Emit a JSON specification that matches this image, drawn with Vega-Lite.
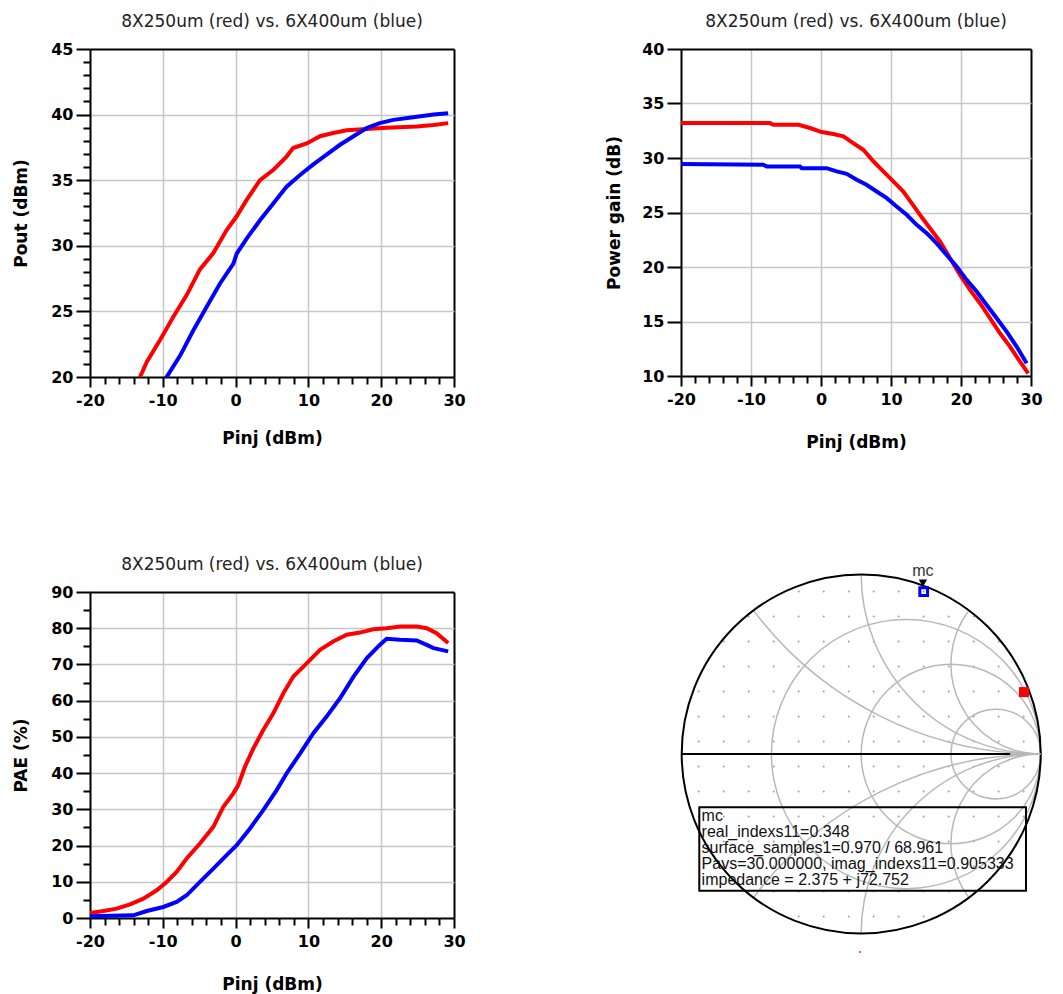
{
  "$schema": "https://vega.github.io/schema/vega-lite/v6.json",
  "autosize": {"type": "none"},
  "padding": {"left": 90, "top": 49, "right": 973, "bottom": 945},
  "background": "white",
  "columns": 2,
  "spacing": {"row": 215, "column": 227},
  "bounds": "flush",
  "align": "all",
  "config": {
    "font": "DejaVu Sans",
    "view": {"stroke": null},
    "axis": {
      "domainColor": "black", "domainWidth": 2,
      "tickColor": "black", "tickWidth": 2,
      "labelFont": "DejaVu Sans", "labelFontWeight": "bold", "labelFontSize": 16, "labelColor": "black",
      "titleFont": "DejaVu Sans", "titleFontWeight": "bold", "titleFontSize": 17, "titleColor": "black",
      "labelFlush": false, "labelOverlap": false
    },
    "title": {"font": "DejaVu Sans", "fontSize": 17, "fontWeight": "normal", "color": "#222222", "frame": "group", "offset": 10}
  },
  "concat": [
    {
      "width": 364, "height": 328,
      "title": "8X250um (red) vs. 6X400um  (blue)",
      "data": {"values": [
        {"dev": "8X250um", "pinj": -20, "v": 13.2},
        {"dev": "8X250um", "pinj": -13.13, "v": 20.0},
        {"dev": "8X250um", "pinj": -12.2, "v": 21.15},
        {"dev": "8X250um", "pinj": -10.4, "v": 22.8},
        {"dev": "8X250um", "pinj": -8.55, "v": 24.6},
        {"dev": "8X250um", "pinj": -6.7, "v": 26.26},
        {"dev": "8X250um", "pinj": -4.9, "v": 28.2},
        {"dev": "8X250um", "pinj": -3.06, "v": 29.45},
        {"dev": "8X250um", "pinj": -1.23, "v": 31.2},
        {"dev": "8X250um", "pinj": 0.15, "v": 32.25},
        {"dev": "8X250um", "pinj": 1.52, "v": 33.5},
        {"dev": "8X250um", "pinj": 3.35, "v": 35.0},
        {"dev": "8X250um", "pinj": 5.2, "v": 35.8},
        {"dev": "8X250um", "pinj": 7.0, "v": 36.8},
        {"dev": "8X250um", "pinj": 7.9, "v": 37.45},
        {"dev": "8X250um", "pinj": 9.76, "v": 37.8},
        {"dev": "8X250um", "pinj": 11.6, "v": 38.35},
        {"dev": "8X250um", "pinj": 13.4, "v": 38.6},
        {"dev": "8X250um", "pinj": 15.26, "v": 38.8},
        {"dev": "8X250um", "pinj": 18.0, "v": 38.9},
        {"dev": "8X250um", "pinj": 20.75, "v": 39.0},
        {"dev": "8X250um", "pinj": 24.9, "v": 39.1},
        {"dev": "8X250um", "pinj": 27.2, "v": 39.2},
        {"dev": "8X250um", "pinj": 29.2, "v": 39.35},
        {"dev": "6X400um", "pinj": -20, "v": 9.3},
        {"dev": "6X400um", "pinj": -9.47, "v": 20.0},
        {"dev": "6X400um", "pinj": -7.6, "v": 21.65},
        {"dev": "6X400um", "pinj": -5.8, "v": 23.56},
        {"dev": "6X400um", "pinj": -3.97, "v": 25.35},
        {"dev": "6X400um", "pinj": -2.14, "v": 27.13},
        {"dev": "6X400um", "pinj": -0.3, "v": 28.65},
        {"dev": "6X400um", "pinj": 0.15, "v": 29.4},
        {"dev": "6X400um", "pinj": 1.52, "v": 30.55},
        {"dev": "6X400um", "pinj": 3.35, "v": 31.95},
        {"dev": "6X400um", "pinj": 5.2, "v": 33.25},
        {"dev": "6X400um", "pinj": 7.0, "v": 34.5},
        {"dev": "6X400um", "pinj": 8.85, "v": 35.4},
        {"dev": "6X400um", "pinj": 10.68, "v": 36.2},
        {"dev": "6X400um", "pinj": 12.5, "v": 36.95},
        {"dev": "6X400um", "pinj": 14.34, "v": 37.7},
        {"dev": "6X400um", "pinj": 16.2, "v": 38.35},
        {"dev": "6X400um", "pinj": 18.0, "v": 38.97},
        {"dev": "6X400um", "pinj": 19.8, "v": 39.35},
        {"dev": "6X400um", "pinj": 21.67, "v": 39.6},
        {"dev": "6X400um", "pinj": 24.4, "v": 39.8},
        {"dev": "6X400um", "pinj": 27.2, "v": 40.0},
        {"dev": "6X400um", "pinj": 29.2, "v": 40.1}
      ]},
      "mark": {"type": "line", "strokeWidth": 4, "clip": true},
      "encoding": {
        "x": {"field": "pinj", "type": "quantitative", "scale": {"domain": [-20, 30], "nice": false, "zero": false},
          "axis": {"title": "Pinj (dBm)", "values": [-20,-18,-16,-14,-12,-10,-8,-6,-4,-2,0,2,4,6,8,10,12,14,16,18,20,22,24,26,28,30],
            "labelExpr": "datum.value % 10 === 0 ? '' + datum.value : ''",
            "tickSize": {"condition": {"test": "datum.value % 10 === 0", "value": 10}, "value": 7},
            "gridOpacity": {"condition": {"test": "datum.value % 10 === 0 && datum.value > -20", "value": 1}, "value": 0},
            "gridColor": {"condition": {"test": "datum.value === 30", "value": "#000000"}, "value": "#c6c6c6"},
            "gridWidth": {"condition": {"test": "datum.value === 30", "value": 2}, "value": 1.5},
            "labelPadding": 5, "titlePadding": 22}},
        "y": {"field": "v", "type": "quantitative", "scale": {"domain": [20, 45], "nice": false, "zero": false},
          "axis": {"title": "Pout (dBm)", "values": [20,21,22,23,24,25,26,27,28,29,30,31,32,33,34,35,36,37,38,39,40,41,42,43,44,45],
            "labelExpr": "datum.value % 5 === 0 ? '' + datum.value : ''",
            "tickSize": {"condition": {"test": "datum.value % 5 === 0", "value": 14}, "value": 7},
            "gridOpacity": {"condition": {"test": "datum.value % 5 === 0 && datum.value > 20", "value": 1}, "value": 0},
            "gridColor": {"condition": {"test": "datum.value === 45", "value": "#000000"}, "value": "#c6c6c6"},
            "gridWidth": {"condition": {"test": "datum.value === 45", "value": 2}, "value": 1.5},
            "labelPadding": 3, "titlePadding": 20}},
        "color": {"field": "dev", "type": "nominal", "scale": {"domain": ["8X250um", "6X400um"], "range": ["#ff0000", "#0000ff"]}, "legend": null}
      }
    },
    {
      "width": 350, "height": 327,
      "title": "8X250um (red) vs. 6X400um  (blue)",
      "data": {"values": [
        {"dev": "8X250um", "pinj": -20, "v": 33.2},
        {"dev": "8X250um", "pinj": -7.3, "v": 33.2},
        {"dev": "8X250um", "pinj": -6.8, "v": 33.05},
        {"dev": "8X250um", "pinj": -3.2, "v": 33.05},
        {"dev": "8X250um", "pinj": -1.57, "v": 32.75},
        {"dev": "8X250um", "pinj": 0.1, "v": 32.38},
        {"dev": "8X250um", "pinj": 1.76, "v": 32.2},
        {"dev": "8X250um", "pinj": 3.2, "v": 31.98},
        {"dev": "8X250um", "pinj": 4.6, "v": 31.37},
        {"dev": "8X250um", "pinj": 6.05, "v": 30.76},
        {"dev": "8X250um", "pinj": 7.48, "v": 29.7},
        {"dev": "8X250um", "pinj": 8.9, "v": 28.77},
        {"dev": "8X250um", "pinj": 10.33, "v": 27.85},
        {"dev": "8X250um", "pinj": 11.76, "v": 26.93},
        {"dev": "8X250um", "pinj": 12.95, "v": 25.86},
        {"dev": "8X250um", "pinj": 14.14, "v": 24.79},
        {"dev": "8X250um", "pinj": 15.57, "v": 23.56},
        {"dev": "8X250um", "pinj": 17.0, "v": 22.34},
        {"dev": "8X250um", "pinj": 18.43, "v": 20.81},
        {"dev": "8X250um", "pinj": 19.86, "v": 19.28},
        {"dev": "8X250um", "pinj": 21.29, "v": 17.9},
        {"dev": "8X250um", "pinj": 22.71, "v": 16.68},
        {"dev": "8X250um", "pinj": 24.14, "v": 15.3},
        {"dev": "8X250um", "pinj": 25.57, "v": 13.92},
        {"dev": "8X250um", "pinj": 27.0, "v": 12.7},
        {"dev": "8X250um", "pinj": 28.43, "v": 11.32},
        {"dev": "8X250um", "pinj": 29.6, "v": 10.25},
        {"dev": "6X400um", "pinj": -20, "v": 29.44},
        {"dev": "6X400um", "pinj": -8.24, "v": 29.38},
        {"dev": "6X400um", "pinj": -7.76, "v": 29.23},
        {"dev": "6X400um", "pinj": -3.0, "v": 29.23},
        {"dev": "6X400um", "pinj": -2.76, "v": 29.07},
        {"dev": "6X400um", "pinj": 0.8, "v": 29.07},
        {"dev": "6X400um", "pinj": 2.24, "v": 28.77},
        {"dev": "6X400um", "pinj": 3.67, "v": 28.55},
        {"dev": "6X400um", "pinj": 5.1, "v": 28.0},
        {"dev": "6X400um", "pinj": 6.5, "v": 27.54},
        {"dev": "6X400um", "pinj": 7.95, "v": 26.93},
        {"dev": "6X400um", "pinj": 9.4, "v": 26.32},
        {"dev": "6X400um", "pinj": 10.8, "v": 25.55},
        {"dev": "6X400um", "pinj": 12.24, "v": 24.79},
        {"dev": "6X400um", "pinj": 13.67, "v": 23.87},
        {"dev": "6X400um", "pinj": 15.1, "v": 23.1},
        {"dev": "6X400um", "pinj": 16.5, "v": 22.19},
        {"dev": "6X400um", "pinj": 17.95, "v": 21.11},
        {"dev": "6X400um", "pinj": 19.38, "v": 20.04},
        {"dev": "6X400um", "pinj": 20.8, "v": 18.82},
        {"dev": "6X400um", "pinj": 22.24, "v": 17.75},
        {"dev": "6X400um", "pinj": 23.67, "v": 16.52},
        {"dev": "6X400um", "pinj": 25.1, "v": 15.3},
        {"dev": "6X400um", "pinj": 26.52, "v": 14.07},
        {"dev": "6X400um", "pinj": 27.95, "v": 12.7},
        {"dev": "6X400um", "pinj": 29.38, "v": 11.17}
      ]},
      "mark": {"type": "line", "strokeWidth": 4, "clip": true},
      "encoding": {
        "x": {"field": "pinj", "type": "quantitative", "scale": {"domain": [-20, 30], "nice": false, "zero": false},
          "axis": {"title": "Pinj (dBm)", "values": [-20,-18,-16,-14,-12,-10,-8,-6,-4,-2,0,2,4,6,8,10,12,14,16,18,20,22,24,26,28,30],
            "labelExpr": "datum.value % 10 === 0 ? '' + datum.value : ''",
            "tickSize": {"condition": {"test": "datum.value % 10 === 0", "value": 10}, "value": 7},
            "gridOpacity": {"condition": {"test": "datum.value % 10 === 0 && datum.value > -20", "value": 1}, "value": 0},
            "gridColor": {"condition": {"test": "datum.value === 30", "value": "#000000"}, "value": "#c6c6c6"},
            "gridWidth": {"condition": {"test": "datum.value === 30", "value": 2}, "value": 1.5},
            "labelPadding": 5, "titlePadding": 27}},
        "y": {"field": "v", "type": "quantitative", "scale": {"domain": [10, 40], "nice": false, "zero": false},
          "axis": {"title": "Power gain (dB)", "values": [10,15,20,25,30,35,40], "tickSize": 14,
            "labelExpr": "'' + datum.value",
            "gridOpacity": {"condition": {"test": "datum.value > 10", "value": 1}, "value": 0},
            "gridColor": {"condition": {"test": "datum.value === 40", "value": "#000000"}, "value": "#c6c6c6"},
            "gridWidth": {"condition": {"test": "datum.value === 40", "value": 2}, "value": 1.5},
            "labelPadding": 3, "titlePadding": 18}},
        "color": {"field": "dev", "type": "nominal", "scale": {"domain": ["8X250um", "6X400um"], "range": ["#ff0000", "#0000ff"]}, "legend": null}
      }
    },
    {
      "width": 364, "height": 326,
      "title": "8X250um (red) vs. 6X400um  (blue)",
      "data": {"values": [
        {"dev": "8X250um", "pinj": -20, "v": 1.38},
        {"dev": "8X250um", "pinj": -18.17, "v": 1.93},
        {"dev": "8X250um", "pinj": -16.34, "v": 2.58},
        {"dev": "8X250um", "pinj": -14.5, "v": 3.78},
        {"dev": "8X250um", "pinj": -12.67, "v": 5.35},
        {"dev": "8X250um", "pinj": -10.84, "v": 7.65},
        {"dev": "8X250um", "pinj": -9.47, "v": 9.96},
        {"dev": "8X250um", "pinj": -8.1, "v": 12.73},
        {"dev": "8X250um", "pinj": -6.72, "v": 16.42},
        {"dev": "8X250um", "pinj": -4.9, "v": 20.57},
        {"dev": "8X250um", "pinj": -3.06, "v": 25.18},
        {"dev": "8X250um", "pinj": -1.68, "v": 30.72},
        {"dev": "8X250um", "pinj": -0.31, "v": 34.4},
        {"dev": "8X250um", "pinj": 0.37, "v": 36.7},
        {"dev": "8X250um", "pinj": 1.29, "v": 41.8},
        {"dev": "8X250um", "pinj": 2.44, "v": 46.8},
        {"dev": "8X250um", "pinj": 3.8, "v": 51.9},
        {"dev": "8X250um", "pinj": 5.18, "v": 56.5},
        {"dev": "8X250um", "pinj": 6.56, "v": 62.05},
        {"dev": "8X250um", "pinj": 7.93, "v": 66.65},
        {"dev": "8X250um", "pinj": 9.76, "v": 70.3},
        {"dev": "8X250um", "pinj": 11.6, "v": 74.04},
        {"dev": "8X250um", "pinj": 13.4, "v": 76.35},
        {"dev": "8X250um", "pinj": 15.26, "v": 78.2},
        {"dev": "8X250um", "pinj": 17.1, "v": 78.8},
        {"dev": "8X250um", "pinj": 18.9, "v": 79.7},
        {"dev": "8X250um", "pinj": 20.75, "v": 80.0},
        {"dev": "8X250um", "pinj": 22.6, "v": 80.5},
        {"dev": "8X250um", "pinj": 24.87, "v": 80.5},
        {"dev": "8X250um", "pinj": 26.25, "v": 80.0},
        {"dev": "8X250um", "pinj": 27.6, "v": 78.6},
        {"dev": "8X250um", "pinj": 29.2, "v": 75.9},
        {"dev": "6X400um", "pinj": -20, "v": 0.46},
        {"dev": "6X400um", "pinj": -14.05, "v": 0.74},
        {"dev": "6X400um", "pinj": -12.2, "v": 1.94},
        {"dev": "6X400um", "pinj": -9.93, "v": 3.04},
        {"dev": "6X400um", "pinj": -8.1, "v": 4.43},
        {"dev": "6X400um", "pinj": -6.72, "v": 6.27},
        {"dev": "6X400um", "pinj": -4.9, "v": 9.96},
        {"dev": "6X400um", "pinj": -3.06, "v": 13.65},
        {"dev": "6X400um", "pinj": -1.23, "v": 17.34},
        {"dev": "6X400um", "pinj": 0.15, "v": 20.1},
        {"dev": "6X400um", "pinj": 1.98, "v": 24.72},
        {"dev": "6X400um", "pinj": 3.8, "v": 29.8},
        {"dev": "6X400um", "pinj": 5.64, "v": 35.3},
        {"dev": "6X400um", "pinj": 7.0, "v": 39.9},
        {"dev": "6X400um", "pinj": 8.85, "v": 45.4},
        {"dev": "6X400um", "pinj": 10.68, "v": 51.0},
        {"dev": "6X400um", "pinj": 12.5, "v": 55.6},
        {"dev": "6X400um", "pinj": 14.34, "v": 60.66},
        {"dev": "6X400um", "pinj": 16.2, "v": 66.65},
        {"dev": "6X400um", "pinj": 18.0, "v": 71.7},
        {"dev": "6X400um", "pinj": 19.8, "v": 75.4},
        {"dev": "6X400um", "pinj": 20.75, "v": 77.1},
        {"dev": "6X400um", "pinj": 22.6, "v": 76.8},
        {"dev": "6X400um", "pinj": 24.87, "v": 76.6},
        {"dev": "6X400um", "pinj": 26.25, "v": 75.4},
        {"dev": "6X400um", "pinj": 27.2, "v": 74.5},
        {"dev": "6X400um", "pinj": 29.2, "v": 73.6}
      ]},
      "mark": {"type": "line", "strokeWidth": 4, "clip": true},
      "encoding": {
        "x": {"field": "pinj", "type": "quantitative", "scale": {"domain": [-20, 30], "nice": false, "zero": false},
          "axis": {"title": "Pinj (dBm)", "values": [-20,-18,-16,-14,-12,-10,-8,-6,-4,-2,0,2,4,6,8,10,12,14,16,18,20,22,24,26,28,30],
            "labelExpr": "datum.value % 10 === 0 ? '' + datum.value : ''",
            "tickSize": {"condition": {"test": "datum.value % 10 === 0", "value": 10}, "value": 7},
            "gridOpacity": {"condition": {"test": "datum.value % 10 === 0 && datum.value > -20", "value": 1}, "value": 0},
            "gridColor": {"condition": {"test": "datum.value === 30", "value": "#000000"}, "value": "#c6c6c6"},
            "gridWidth": {"condition": {"test": "datum.value === 30", "value": 2}, "value": 1.5},
            "labelPadding": 5, "titlePadding": 27}},
        "y": {"field": "v", "type": "quantitative", "scale": {"domain": [0, 90], "nice": false, "zero": false},
          "axis": {"title": "PAE (%)", "values": [0,5,10,15,20,25,30,35,40,45,50,55,60,65,70,75,80,85,90],
            "labelExpr": "datum.value % 10 === 0 ? '' + datum.value : ''",
            "tickSize": {"condition": {"test": "datum.value % 10 === 0", "value": 14}, "value": 7},
            "gridOpacity": {"condition": {"test": "datum.value % 10 === 0 && datum.value > 0", "value": 1}, "value": 0},
            "gridColor": {"condition": {"test": "datum.value === 90", "value": "#000000"}, "value": "#c6c6c6"},
            "gridWidth": {"condition": {"test": "datum.value === 90", "value": 2}, "value": 1.5},
            "labelPadding": 3, "titlePadding": 20}},
        "color": {"field": "dev", "type": "nominal", "scale": {"domain": ["8X250um", "6X400um"], "range": ["#ff0000", "#0000ff"]}, "legend": null}
      }
    },
    {
      "width": 360, "height": 326,
      "encoding": {
        "x": {"field": "px", "type": "quantitative", "scale": {"domain": [-1.0039, 1.0017], "nice": false, "zero": false}, "axis": null},
        "y": {"field": "py", "type": "quantitative", "scale": {"domain": [-0.9136, 0.9025], "nice": false, "zero": false}, "axis": null}
      },
      "layer": [
        {
          "data": {"values": [
            {"py": 0.0696, "px": [-0.9053,-0.766,-0.6267,-0.4875,-0.3482,-0.2089,-0.0696,0.0696,0.2089,0.3482,0.4875,0.6267,0.766,0.9053]},
            {"py": -0.0696, "px": [-0.9053,-0.766,-0.6267,-0.4875,-0.3482,-0.2089,-0.0696,0.0696,0.2089,0.3482,0.4875,0.6267,0.766,0.9053]},
            {"py": 0.2089, "px": [-0.9053,-0.766,-0.6267,-0.4875,-0.3482,-0.2089,-0.0696,0.0696,0.2089,0.3482,0.4875,0.6267,0.766,0.9053]},
            {"py": -0.2089, "px": [-0.9053,-0.766,-0.6267,-0.4875,-0.3482,-0.2089,-0.0696,0.0696,0.2089,0.3482,0.4875,0.6267,0.766,0.9053]},
            {"py": 0.3482, "px": [-0.9053,-0.766,-0.6267,-0.4875,-0.3482,-0.2089,-0.0696,0.0696,0.2089,0.3482,0.4875,0.6267,0.766,0.9053]},
            {"py": -0.3482, "px": [-0.9053,-0.766,-0.6267,-0.4875,-0.3482,-0.2089,-0.0696,0.0696,0.2089,0.3482,0.4875,0.6267,0.766,0.9053]},
            {"py": 0.4875, "px": [-0.766,-0.6267,-0.4875,-0.3482,-0.2089,-0.0696,0.0696,0.2089,0.3482,0.4875,0.6267,0.766]},
            {"py": -0.4875, "px": [-0.766,-0.6267,-0.4875,-0.3482,-0.2089,-0.0696,0.0696,0.2089,0.3482,0.4875,0.6267,0.766]},
            {"py": 0.6267, "px": [-0.766,-0.6267,-0.4875,-0.3482,-0.2089,-0.0696,0.0696,0.2089,0.3482,0.4875,0.6267,0.766]},
            {"py": -0.6267, "px": [-0.766,-0.6267,-0.4875,-0.3482,-0.2089,-0.0696,0.0696,0.2089,0.3482,0.4875,0.6267,0.766]},
            {"py": 0.766, "px": [-0.6267,-0.4875,-0.3482,-0.2089,-0.0696,0.0696,0.2089,0.3482,0.4875,0.6267]},
            {"py": -0.766, "px": [-0.6267,-0.4875,-0.3482,-0.2089,-0.0696,0.0696,0.2089,0.3482,0.4875,0.6267]},
            {"py": 0.9053, "px": [-0.3482,-0.2089,-0.0696,0.0696,0.2089,0.3482]},
            {"py": -0.9053, "px": [-0.3482,-0.2089,-0.0696,0.0696,0.2089,0.3482]}
          ]},
          "transform": [{"flatten": ["px"]}],
          "mark": {"type": "point", "filled": true, "size": 4, "color": "#a0a0a0", "opacity": 1}
        },
        {
          "data": {"values": [
            {"px": 0.25, "py": 0, "r": 0.75, "t1": 0, "t2": 360},
            {"px": 0.5, "py": 0, "r": 0.5, "t1": 0, "t2": 360},
            {"px": 0.75, "py": 0, "r": 0.25, "t1": 0, "t2": 360},
            {"px": 1, "py": 2, "r": 2, "t1": 180, "t2": 233.13},
            {"px": 1, "py": 1, "r": 1, "t1": 180, "t2": 270},
            {"px": 1, "py": 0.5, "r": 0.5, "t1": 180, "t2": 306.87},
            {"px": 1, "py": -2, "r": 2, "t1": 306.87, "t2": 360},
            {"px": 1, "py": -1, "r": 1, "t1": 270, "t2": 360},
            {"px": 1, "py": -0.5, "r": 0.5, "t1": 233.13, "t2": 360}
          ]},
          "mark": {"type": "arc", "filled": false, "color": "#b8b8b8", "strokeWidth": 1.5},
          "encoding": {
            "theta": {"field": "t1", "type": "quantitative", "stack": null, "scale": {"type": "linear", "domain": [0, 360], "range": [0, 6.283185307179586]}},
            "theta2": {"field": "t2"},
            "radius": {"field": "r", "type": "quantitative", "scale": {"type": "linear", "domain": [0, 1], "range": [0, 179.5], "zero": true}},
            "radius2": {"field": "r"}
          }
        },
        {
          "data": {"values": [{"px": 0, "py": 0, "r": 1, "t1": 0, "t2": 360}]},
          "mark": {"type": "arc", "filled": false, "color": "black", "strokeWidth": 2},
          "encoding": {
            "theta": {"field": "t1", "type": "quantitative", "stack": null, "scale": {"type": "linear", "domain": [0, 360], "range": [0, 6.283185307179586]}},
            "theta2": {"field": "t2"},
            "radius": {"field": "r", "type": "quantitative", "scale": {"type": "linear", "domain": [0, 1], "range": [0, 179.5], "zero": true}},
            "radius2": {"field": "r"}
          }
        },
        {
          "data": {"values": [{"px": 0.83, "px2": 1, "py": 0}]},
          "mark": {"type": "rule", "color": "#b8b8b8", "strokeWidth": 2},
          "encoding": {"x2": {"field": "px2"}}
        },
        {
          "data": {"values": [{"px": -1, "px2": 0.83, "py": 0}]},
          "mark": {"type": "rule", "color": "black", "strokeWidth": 2},
          "encoding": {"x2": {"field": "px2"}}
        },
        {
          "data": {"values": [{"px": -0.902, "px2": 0.918, "py": -0.297, "py2": -0.7616}]},
          "mark": {"type": "rect", "filled": false, "color": "black", "strokeWidth": 2},
          "encoding": {"x2": {"field": "px2"}, "y2": {"field": "py2"}}
        },
        {
          "data": {"values": [
            {"px": -0.889, "py": -0.3454, "label": "mc"},
            {"px": -0.889, "py": -0.4345, "label": "real_indexs11=0.348"},
            {"px": -0.889, "py": -0.5237, "label": "surface_samples1=0.970 / 68.961"},
            {"px": -0.889, "py": -0.6128, "label": "Pavs=30.000000, imag_indexs11=0.905333"},
            {"px": -0.889, "py": -0.7019, "label": "impedance = 2.375 + j72.752"}
          ]},
          "mark": {"type": "text", "align": "left", "baseline": "middle", "font": "Liberation Sans", "fontSize": 16, "color": "#111111"},
          "encoding": {"text": {"field": "label", "type": "nominal"}}
        },
        {
          "data": {"values": [{"px": 0.348, "py": 0.905}]},
          "mark": {"type": "point", "shape": "square", "filled": false, "color": "#0000ff", "strokeWidth": 3, "size": 60, "opacity": 1}
        },
        {
          "data": {"values": [{"px": 0.344, "py": 0.952}]},
          "mark": {"type": "point", "shape": "triangle-down", "filled": true, "color": "black", "size": 70, "opacity": 1}
        },
        {
          "data": {"values": [{"px": 0.907, "py": 0.345}]},
          "mark": {"type": "point", "shape": "square", "filled": true, "color": "#ff0000", "size": 100, "opacity": 1}
        },
        {
          "data": {"values": [{"px": -0.007, "py": -1.103}]},
          "mark": {"type": "point", "shape": "square", "filled": true, "color": "#ff0000", "size": 3, "opacity": 1}
        },
        {
          "data": {"values": [{"px": 0.344, "py": 1.022, "label": "mc"}]},
          "mark": {"type": "text", "align": "center", "baseline": "middle", "font": "Liberation Sans", "fontSize": 16, "color": "#333333"},
          "encoding": {"text": {"field": "label", "type": "nominal"}}
        }
      ]
    }
  ]
}
